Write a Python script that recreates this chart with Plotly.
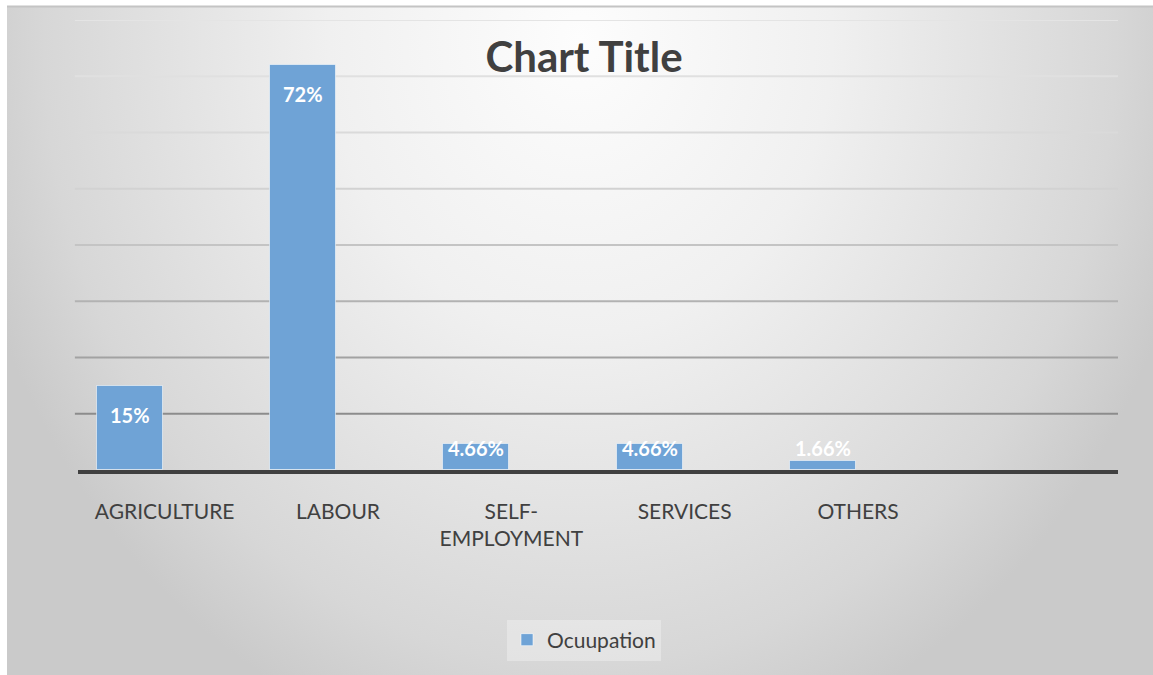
import base64
import plotly.graph_objects as go

# ---- data ----
CATEGORIES = ["AGRICULTURE", "LABOUR", "SELF-<br>EMPLOYMENT", "SERVICES", "OTHERS"]
VALUES = [15, 72, 4.66, 4.66, 1.66]
LABELS = ["15%", "72%", "4.66%", "4.66%", "1.66%"]
SERIES_NAME = "Ocuupation"
GRID_VALUES = [10, 20, 30, 40, 50, 60, 70, 80]

# ---- styles ----
GRID_COLORS = ["#8c8c8c", "#a2a2a2", "#b2b2b2", "#c4c4c4", "#d2d2d2", "#dadada", "#e0e0e0", "#e4e4e4"]
BAR_COLOR = "#6fa3d6"
TEXT_COLOR = "#404040"
FONT = "Lato, 'Open Sans', sans-serif"
BAR_OFFSET = -0.392
BAR_WIDTH = 0.38
LABEL_DROP = 5.2
LABEL_FLOOR = 4.0

W, H = 1153, 675
ML, MR, MT, MB = 78, 35, 20, 205
PW, PH = W - ML - MR, H - MT - MB

def px_to_paper_x(px):
    return (px - ML) / PW

def px_to_paper_y(py):
    return (H - MB - py) / PH

# background gradient image (chart area)
svg = (
    '<svg xmlns="http://www.w3.org/2000/svg" width="1146" height="669" viewBox="0 0 1146 669" '
    'preserveAspectRatio="none"><defs><radialGradient id="g" cx="0.5" cy="0.05" r="1" '
    'gradientTransform="translate(0.5 0.05) scale(0.55 1.1) translate(-0.5 -0.05)">'
    '<stop offset="0" stop-color="#fdfdfd"/><stop offset="0.4" stop-color="#f0f0f0"/>'
    '<stop offset="0.85" stop-color="#d7d7d7"/><stop offset="1" stop-color="#cacaca"/>'
    '</radialGradient></defs><rect width="1146" height="669" fill="url(#g)"/></svg>'
)
svg_uri = "data:image/svg+xml;base64," + base64.b64encode(svg.encode()).decode()

fig = go.Figure()
fig.add_trace(go.Bar(
    x=CATEGORIES, y=VALUES, name=SERIES_NAME,
    marker=dict(color=BAR_COLOR, line=dict(color="rgba(255,255,255,0.55)", width=1)),
    offset=BAR_OFFSET, width=BAR_WIDTH, hoverinfo="skip",
))

# data labels
annotations = []
for i, (v, lab) in enumerate(zip(VALUES, LABELS)):
    annotations.append(dict(
        x=i + BAR_OFFSET + BAR_WIDTH / 2, y=max(v - LABEL_DROP, LABEL_FLOOR),
        xref="x", yref="y", text=f"<b>{lab}</b>", showarrow=False,
        xanchor="center", yanchor="middle",
        font=dict(family=FONT, size=20, color="white"),
    ))

shapes = []
for gv, gc in zip(GRID_VALUES, GRID_COLORS):
    shapes.append(dict(type="line", xref="paper", yref="y", x0=-0.003, x1=1, y0=gv, y1=gv,
                       line=dict(color=gc, width=2), layer="below"))
# chart top border
shapes.append(dict(type="line", xref="paper", yref="paper",
                   x0=px_to_paper_x(7), x1=px_to_paper_x(1153),
                   y0=px_to_paper_y(6.5), y1=px_to_paper_y(6.5),
                   line=dict(color="#c4c4c4", width=2), layer="above"))

fig.update_layout(
    width=W, height=H,
    margin=dict(l=ML, r=MR, t=MT, b=MB, pad=0),
    paper_bgcolor="white", plot_bgcolor="rgba(0,0,0,0)",
    font=dict(family=FONT, color=TEXT_COLOR),
    title=dict(text="<b>Chart Title</b>", x=584 / W, xref="container", xanchor="center",
               y=1 - 57 / H, yref="container", yanchor="middle",
               font=dict(family=FONT, size=42, color=TEXT_COLOR)),
    showlegend=True,
    legend=dict(orientation="h", x=px_to_paper_x(584), xanchor="center",
                y=px_to_paper_y(640), yanchor="middle",
                bgcolor="rgba(255,255,255,0.3)", borderwidth=0,
                font=dict(family=FONT, size=21, color=TEXT_COLOR)),
    xaxis=dict(type="category", range=[-0.5, 5.5], showgrid=False, zeroline=False,
               showline=True, linecolor="#404040", linewidth=3.5,
               ticks="", ticklabelstandoff=20,
               tickfont=dict(family=FONT, size=21, color=TEXT_COLOR), fixedrange=True),
    yaxis=dict(range=[0, 80], showgrid=False, zeroline=False, showticklabels=False,
               showline=False, fixedrange=True),
    images=[dict(source=svg_uri, xref="paper", yref="paper",
                 x=px_to_paper_x(7), y=px_to_paper_y(6),
                 sizex=px_to_paper_x(1153) - px_to_paper_x(7),
                 sizey=px_to_paper_y(6) - px_to_paper_y(675),
                 xanchor="left", yanchor="top", sizing="stretch", layer="below")],
    shapes=shapes,
    annotations=annotations,
    bargap=0,
)

fig.write_html("out.html")
